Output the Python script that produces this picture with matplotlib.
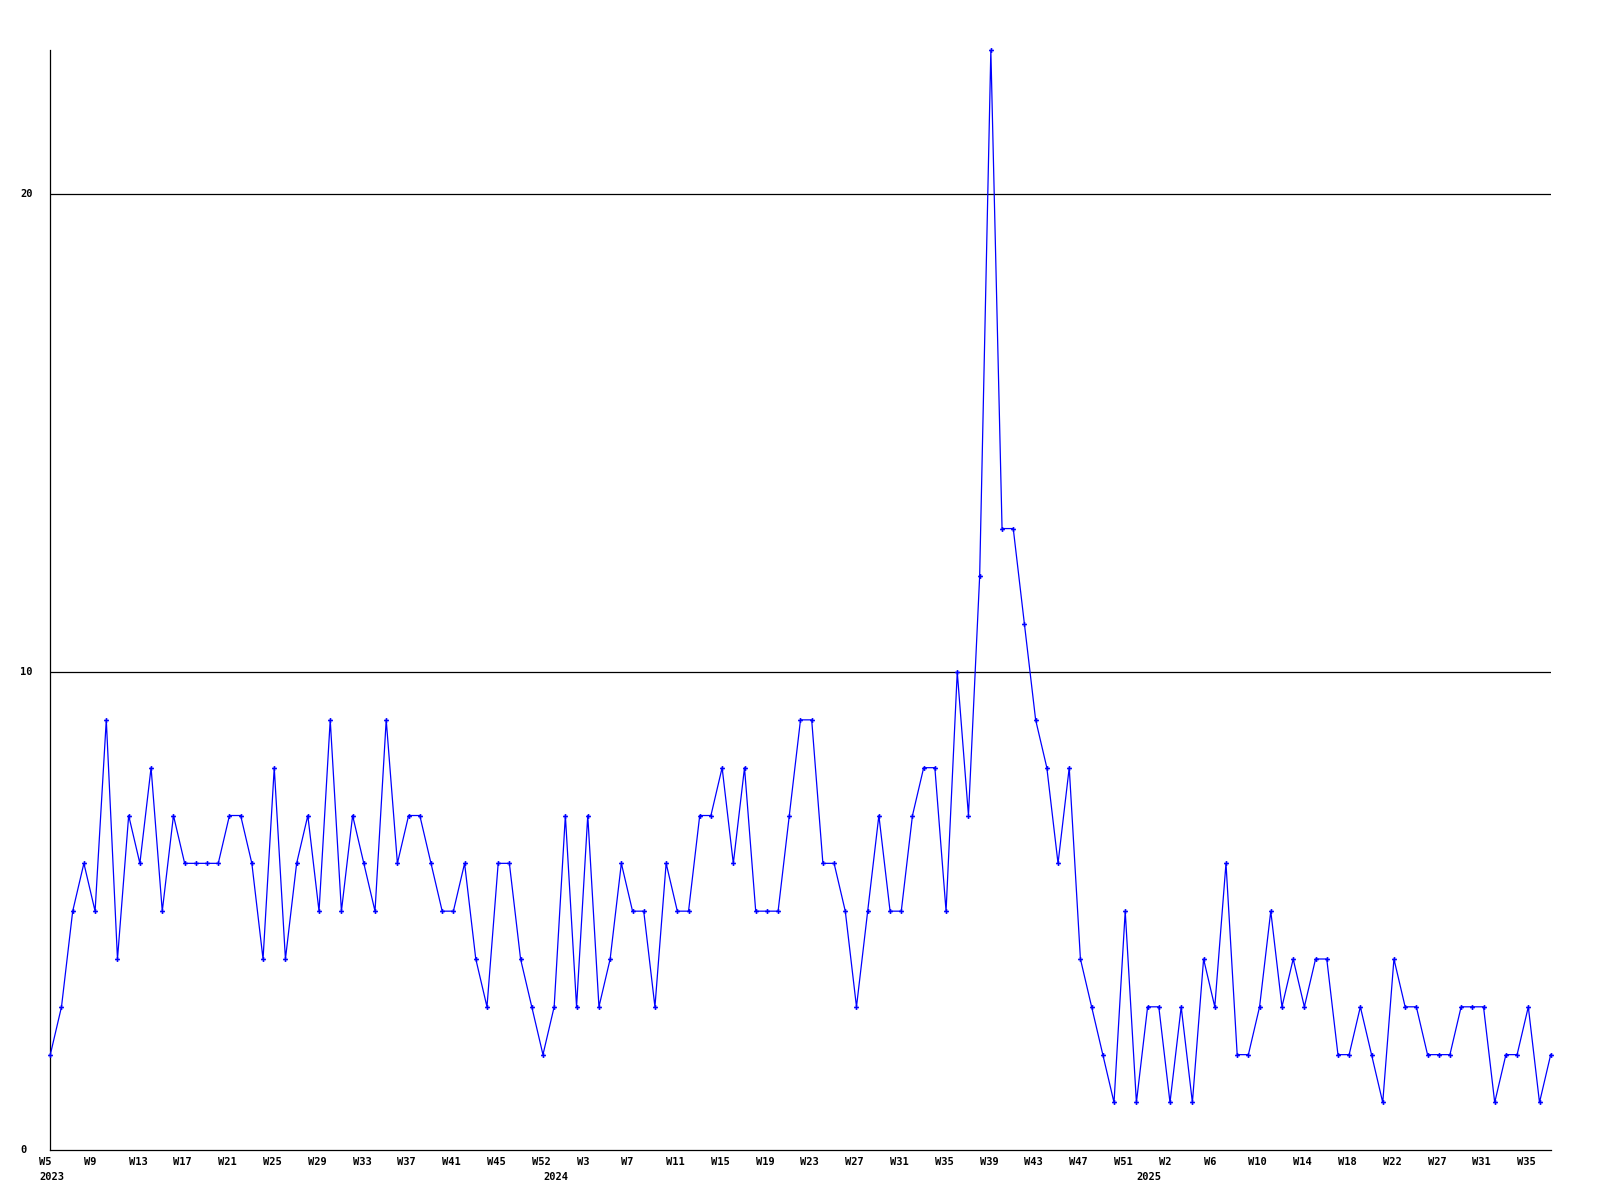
import matplotlib
matplotlib.use("Agg")
import matplotlib.pyplot as plt
import matplotlib.transforms as mtransforms

# ---- data ----
values = [2, 3, 5, 6, 5, 9, 4, 7, 6, 8, 5, 7, 6, 6, 6, 6, 7, 7, 6, 4,
          8, 4, 6, 7, 5, 9, 5, 7, 6, 5, 9, 6,
          7, 7, 6, 5, 5, 6, 4, 3, 6, 6, 4, 3, 2, 3, 7, 3, 7, 3,
          4, 6, 5, 5, 3, 6, 5, 5, 7, 7, 8, 6, 8, 5, 5, 5,
          7, 9, 9, 6, 6, 5, 3, 5, 7, 5, 5, 7, 8, 8, 5, 10, 7, 12, 23, 13,
          13, 11, 9, 8, 6, 8, 4, 3, 2, 1, 5, 1, 3, 3,
          1, 3, 1, 4, 3, 6, 2, 2, 3, 5, 3, 4, 3, 4, 4, 2, 2, 3, 2, 1,
          4, 3, 3, 2, 2, 2, 3, 3, 3, 1, 2, 2, 3, 1, 2]

week_tick_labels = ["W5", "W9", "W13", "W17", "W21", "W25", "W29", "W33", "W37",
                    "W41", "W45", "W52", "W3", "W7", "W11", "W15", "W19", "W23",
                    "W27", "W31", "W35", "W39", "W43", "W47", "W51", "W2", "W6",
                    "W10", "W14", "W18", "W22", "W27", "W31", "W35"]
week_tick_step = 4
year_labels = ["2023", "2024", "2025"]
year_start_index = [0, 45, 98]
y_ticks = [0, 10, 20]
y_grid = [10, 20]

# ---- figure ----
W, H = 1600, 1200
fig = plt.figure(figsize=(16, 12), dpi=100)
left, right = 50.3 / W, 1550.7 / W
bottom, top = 1 - 1150.3 / H, 1 - 50.3 / H
ax = fig.add_axes([left, bottom, right - left, top - bottom])

x = list(range(len(values)))
ax.plot(x, values, color=(0, 0, 1), lw=0.9, marker="P", ms=3.5, mew=0,
        mfc=(0, 0, 1), zorder=3, clip_on=False)

ax.set_xlim(0, len(values) - 1)
ax.set_ylim(0, max(values))

for g in y_grid:
    ax.axhline(g, color="black", lw=0.9, zorder=1)

for s in ["top", "right"]:
    ax.spines[s].set_visible(False)
for s in ["left", "bottom"]:
    ax.spines[s].set_color("black")
    ax.spines[s].set_linewidth(0.9)
ax.set_xticks([])
ax.set_yticks([])

font = dict(family="DejaVu Sans Mono", weight="bold", size=7.5)

# y labels, left-aligned at x=20px
ytrans = mtransforms.blended_transform_factory(fig.transFigure, ax.transData)
for v in y_ticks:
    ax.text(20 / W, v, str(v), transform=ytrans, ha="left", va="center", **font)

# x week labels (left edge one slot before the point)
xtrans = mtransforms.blended_transform_factory(ax.transData, fig.transFigure)
for k, lab in enumerate(week_tick_labels):
    xi = k * week_tick_step
    ax.text(xi - 1, 1 - 1162 / H, lab, transform=xtrans, ha="left", va="center",
            clip_on=False, **font)
for lab, xi in zip(year_labels, year_start_index):
    ax.text(xi - 1, 1 - 1177 / H, lab, transform=xtrans, ha="left", va="center",
            clip_on=False, **font)

fig.savefig("out.png", dpi=100, facecolor="white")
